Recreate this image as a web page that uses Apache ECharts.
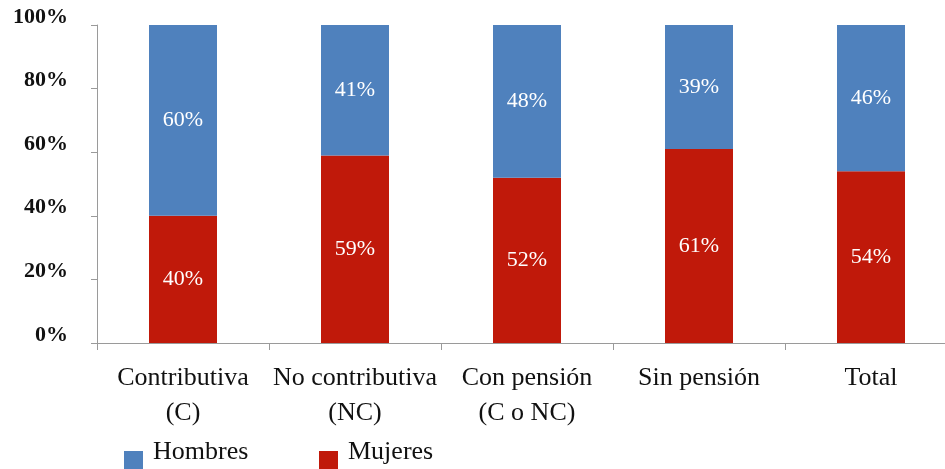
<!DOCTYPE html>
<html>
<head>
<meta charset="utf-8">
<script src="https://cdn.jsdelivr.net/npm/echarts@6/dist/echarts.min.js"></script>
<style>
html,body{margin:0;padding:0;background:#fff;overflow:hidden;}
#wrap{width:945px;height:469px;overflow:hidden;}
#c{width:960px;height:469px;}
</style>
</head>
<body>
<div id="wrap"><div id="c"></div></div>
<script>
var categories = ['Contributiva\n(C)', 'No contributiva\n(NC)', 'Con pensión\n(C o NC)', 'Sin pensión', 'Total'];
var hombres = [60, 41, 48, 39, 46];
var mujeres = [40, 59, 52, 61, 54];
var yTicks = [0, 20, 40, 60, 80, 100];

var FONT = '"Liberation Serif", "DejaVu Serif", serif';
var chart = echarts.init(document.getElementById('c'), null, {renderer: 'canvas'});
var labelStyle = {
  show: true,
  position: 'inside',
  color: '#ffffff',
  fontFamily: FONT,
  fontSize: 22,
  formatter: '{c}%'
};
// legend icon: square in the lower part of a taller box (tiny anchor dot at top)
var legendIcon = 'path://M0,0h0.05v0.05h-0.05z M0,16h19v18h-19z';
chart.setOption({
  animation: false,
  backgroundColor: '#ffffff',
  grid: {left: 97, top: 25, width: 860, height: 318, containLabel: false},
  legend: [
    {data: ['Hombres'], left: 124, top: 435, padding: 0, itemWidth: 19, itemHeight: 34, icon: legendIcon,
     itemGap: 0, textStyle: {fontFamily: FONT, fontSize: 26, color: '#111', padding: [0, 0, 0, 5]}},
    {data: ['Mujeres'], left: 319, top: 435, padding: 0, itemWidth: 19, itemHeight: 34, icon: legendIcon,
     itemGap: 0, textStyle: {fontFamily: FONT, fontSize: 26, color: '#111', padding: [0, 0, 0, 5]}}
  ],
  xAxis: {
    type: 'category',
    data: categories,
    axisLine: {show: true, lineStyle: {color: '#9a9a9a', width: 1}},
    axisTick: {show: true, length: 7, interval: 0, lineStyle: {color: '#9a9a9a'}},
    axisLabel: {interval: 0, margin: 18, fontFamily: FONT, fontSize: 26, lineHeight: 35, color: '#111'}
  },
  yAxis: {
    type: 'value',
    min: 0, max: 100, interval: 20,
    axisLine: {show: true, lineStyle: {color: '#9a9a9a', width: 1}},
    axisTick: {show: true, length: 6, lineStyle: {color: '#9a9a9a'}},
    splitLine: {show: false},
    axisLabel: {
      margin: 29, fontFamily: FONT, fontSize: 22, fontWeight: 'bold', color: '#111',
      verticalAlign: 'bottom', lineHeight: 16,
      formatter: function (v) { return yTicks.indexOf(v) >= 0 ? v + '%' : ''; }
    }
  },
  series: [
    {name: 'Mujeres', type: 'bar', stack: 'total', data: mujeres, barWidth: 68,
     itemStyle: {color: '#C0190A'}, label: labelStyle},
    {name: 'Hombres', type: 'bar', stack: 'total', data: hombres, barWidth: 68,
     itemStyle: {color: '#4F81BD'}, label: labelStyle}
  ]
});
</script>
</body>
</html>
